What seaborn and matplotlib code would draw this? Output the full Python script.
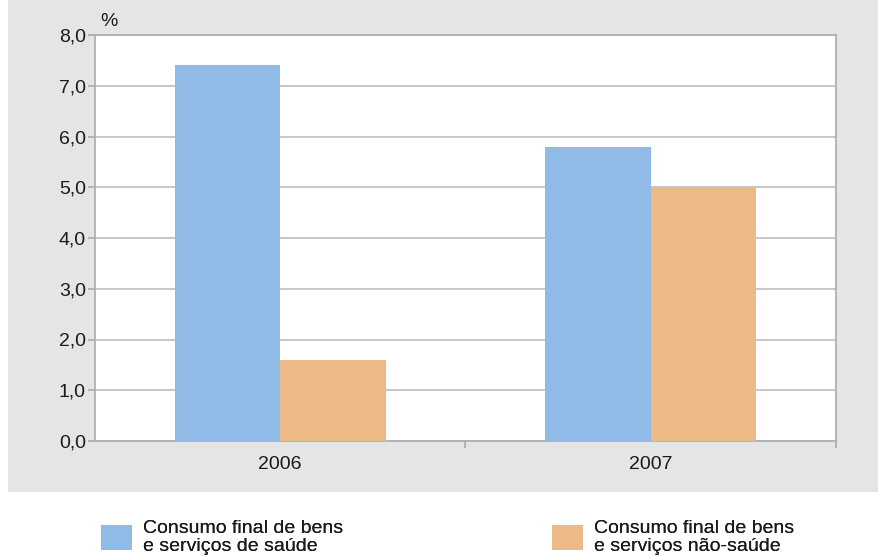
import matplotlib
matplotlib.use("Agg")
import matplotlib.pyplot as plt
import seaborn as sns
import pandas as pd
from matplotlib.patches import Rectangle
from matplotlib.ticker import FixedLocator

years = ["2006", "2007"]
series = ["Consumo final de bens\ne serviços de saúde",
          "Consumo final de bens\ne serviços não-saúde"]
saude = [7.4, 5.8]
nao_saude = [1.6, 5.0]
yticks = [0, 1, 2, 3, 4, 5, 6, 7, 8]
ytick_labels = ["0,0", "1,0", "2,0", "3,0", "4,0", "5,0", "6,0", "7,0", "8,0"]
colors = ["#8fbbe6", "#ebba86"]

df = pd.DataFrame({
    "ano": years * 2,
    "serie": [series[0]] * 2 + [series[1]] * 2,
    "valor": saude + nao_saude,
})

sns.set_theme(style="white")
plt.rcParams["font.family"] = ["Liberation Sans", "DejaVu Sans"]

W, H = 879, 556
fs = 14
fig = plt.figure(figsize=(W / 100, H / 100), dpi=100, facecolor="white")
fig.add_artist(Rectangle((8 / W, 1 - 492 / H), 1 - 8 / W, 492 / H,
                         transform=fig.transFigure, facecolor="#e4e5e7",
                         edgecolor="none", zorder=0))

ax = fig.add_axes([95 / W, (H - 441) / H, 741 / W, 406 / H])
ax.set_facecolor("white")
sns.barplot(data=df, x="ano", y="valor", hue="serie", palette=colors,
            width=0.57, gap=0, saturation=1, linewidth=0, edgecolor="none",
            ax=ax, zorder=3)

ax.set_xlim(-0.5, 1.5)
ax.set_ylim(0, 8)
ax.set_yticks(yticks)
ax.set_yticklabels(ytick_labels)
ax.xaxis.set_minor_locator(FixedLocator([0.5, 1.5]))
ax.tick_params(axis="x", which="major", length=0, pad=11, labelsize=fs,
               labelcolor="#1a1a1a")
ax.tick_params(axis="x", which="minor", length=5, width=1.2, color="#a8a8a8",
               direction="out", bottom=True)
ax.tick_params(axis="y", length=5, width=1.2, color="#a8a8a8", left=True,
               pad=1.5, labelsize=fs, labelcolor="#1a1a1a")
ax.grid(axis="y", color="#bdbdbd", linewidth=1.2, zorder=0)
ax.set_axisbelow(True)
for s in ax.spines.values():
    s.set_visible(True)
    s.set_color("#b0b0b0")
    s.set_linewidth(1.3)
ax.set_xlabel("")
ax.set_ylabel("")
ax.text(0.007, 1.012, "%", transform=ax.transAxes, ha="left", va="bottom",
        fontsize=fs, color="#1a1a1a")

handles, labels = ax.get_legend_handles_labels()
ax.get_legend().remove()
for i, x0 in enumerate([101, 552]):
    leg = fig.legend([handles[i]], [labels[i]], loc="center left",
                     bbox_to_anchor=(x0 / W, 1 - 537.5 / H), frameon=False,
                     fontsize=fs, handlelength=1.6, handleheight=1.6,
                     handletextpad=0.55, borderpad=0, borderaxespad=0,
                     labelspacing=0)
    for t in leg.get_texts():
        t.set_color("#1a1a1a")
        t.set_linespacing(1.12)
    fig.add_artist(leg)

fig.savefig("out.png", dpi=100, facecolor="white")
